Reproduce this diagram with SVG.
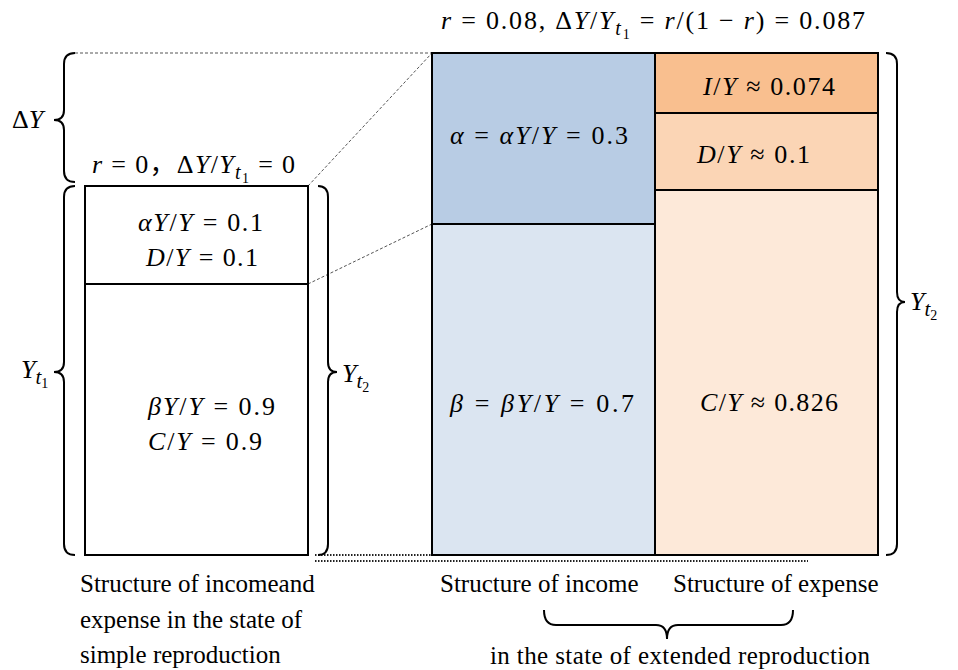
<svg xmlns="http://www.w3.org/2000/svg" width="958" height="670" viewBox="0 0 958 670">
<style>
.m{font-family:"Liberation Serif","Noto Sans CJK SC",serif;font-size:26px;fill:#000}
.i{font-style:italic}
.cap{font-family:"Liberation Serif",serif;font-size:25px;fill:#000}
.box{stroke:#000;stroke-width:2}
.dash{fill:none;stroke:#555;stroke-width:1;stroke-dasharray:3 2}
.dot{fill:none;stroke:#222;stroke-width:2;stroke-dasharray:1.5 1.5}
.br{fill:none;stroke:#000;stroke-width:2}
</style>
<rect width="958" height="670" fill="#fff"/>

<g id="connectors">
  <path class="dash" d="M75,53 L432,53"/>
  <path class="dash" d="M308,186 L432,53"/>
  <path class="dash" d="M308,284 L432,224"/>
  <path class="dot" d="M315,555 L432,555"/>
  <path class="dot" d="M315,561 L808,561"/>
</g>

<g id="braces">
  <path class="br" d="M75,53 Q64,53 64,64 L64,110 Q64,120 54,120 Q64,120 64,130 L64,171 Q64,182 75,182"/>
  <path class="br" d="M75,186 Q64,186 64,197 L64,362 Q64,372 54,372 Q64,372 64,382 L64,544 Q64,555 75,555"/>
  <path class="br" d="M318,186 Q328,186 328,197 L328,362 Q328,372 337,372 Q328,372 328,382 L328,544 Q328,555 318,555"/>
  <path class="br" d="M886,53 Q897,53 897,64 L897,292 Q897,302 905,302 Q897,302 897,312 L897,544 Q897,555 886,555"/>
  <path class="br" d="M544,610 Q544,625 556,625 L656,625 Q667,625 667,639 Q667,625 678,625 L781,625 Q793,625 793,610"/>
</g>

<g id="simple-box">
  <rect class="box" x="85" y="186" width="223" height="369" fill="#fff"/>
  <line class="box" x1="85" y1="284" x2="308" y2="284"/>
  <text class="m" x="138" y="231" textLength="125" lengthAdjust="spacing"><tspan class="i">αY</tspan>/<tspan class="i">Y</tspan> = 0.1</text>
  <text class="m" x="146" y="266" textLength="112" lengthAdjust="spacing"><tspan class="i">D</tspan>/<tspan class="i">Y</tspan> = 0.1</text>
  <text class="m" x="148" y="415" textLength="127" lengthAdjust="spacing"><tspan class="i">βY</tspan>/<tspan class="i">Y</tspan> = 0.9</text>
  <text class="m" x="148" y="450" textLength="114" lengthAdjust="spacing"><tspan class="i">C</tspan>/<tspan class="i">Y</tspan> = 0.9</text>
</g>

<g id="alpha-income">
  <rect class="box" x="432" y="53" width="223" height="171" fill="#b8cce4"/>
  <text class="m" x="450" y="144" textLength="178" lengthAdjust="spacing"><tspan class="i">α</tspan> = <tspan class="i">αY</tspan>/<tspan class="i">Y</tspan> = 0.3</text>
</g>
<g id="beta-income">
  <rect class="box" x="432" y="224" width="223" height="331" fill="#dbe5f1"/>
  <text class="m" x="450" y="412" textLength="184" lengthAdjust="spacing"><tspan class="i">β</tspan> = <tspan class="i">βY</tspan>/<tspan class="i">Y</tspan> = 0.7</text>
</g>
<g id="investment">
  <rect class="box" x="655" y="53" width="223" height="60" fill="#f9bf8f"/>
  <text class="m" x="703" y="95" textLength="132" lengthAdjust="spacing"><tspan class="i">I</tspan>/<tspan class="i">Y</tspan> ≈ 0.074</text>
</g>
<g id="depreciation">
  <rect class="box" x="655" y="113" width="223" height="77" fill="#fbd5b5"/>
  <text class="m" x="697" y="163" textLength="113" lengthAdjust="spacing"><tspan class="i">D</tspan>/<tspan class="i">Y</tspan> ≈ 0.1</text>
</g>
<g id="consumption">
  <rect class="box" x="655" y="190" width="223" height="365" fill="#fde9d9"/>
  <text class="m" x="700" y="411" textLength="138" lengthAdjust="spacing"><tspan class="i">C</tspan>/<tspan class="i">Y</tspan> ≈ 0.826</text>
</g>

<g id="labels">
  <text class="m" x="441" y="29" textLength="424" lengthAdjust="spacing"><tspan class="i">r</tspan> = 0.08,  Δ<tspan class="i">Y</tspan>/<tspan class="i">Y</tspan><tspan class="i" font-size="20" dy="6">t</tspan><tspan font-size="14" dy="4">1</tspan><tspan dy="-10"> = </tspan><tspan class="i">r</tspan>/(1 − <tspan class="i">r</tspan>) = 0.087</text>
  <text class="m" x="92" y="173" textLength="203" lengthAdjust="spacing"><tspan class="i">r</tspan> = 0，Δ<tspan class="i">Y</tspan>/<tspan class="i">Y</tspan><tspan class="i" font-size="20" dy="6">t</tspan><tspan font-size="14" dy="4">1</tspan><tspan dy="-10"> = 0</tspan></text>
  <text class="m" x="12" y="128" font-size="27">Δ<tspan class="i">Y</tspan></text>
  <text class="m" x="21" y="378" font-size="27"><tspan class="i">Y</tspan><tspan class="i" font-size="21" dy="6">t</tspan><tspan font-size="14" dy="4">1</tspan></text>
  <text class="m" x="342" y="382" font-size="27"><tspan class="i">Y</tspan><tspan class="i" font-size="21" dy="6">t</tspan><tspan font-size="14" dy="4">2</tspan></text>
  <text class="m" x="910" y="310" font-size="27"><tspan class="i">Y</tspan><tspan class="i" font-size="21" dy="6">t</tspan><tspan font-size="14" dy="4">2</tspan></text>
  <text class="cap" x="80" y="592">Structure of incomeand</text>
  <text class="cap" x="80" y="628">expense in the state of</text>
  <text class="cap" x="80" y="663">simple reproduction</text>
  <text class="cap" x="440" y="592">Structure of income</text>
  <text class="cap" x="673" y="592">Structure of expense</text>
  <text class="cap" x="490" y="664" font-size="26" textLength="380" lengthAdjust="spacing">in the state of extended reproduction</text>
</g>
</svg>
